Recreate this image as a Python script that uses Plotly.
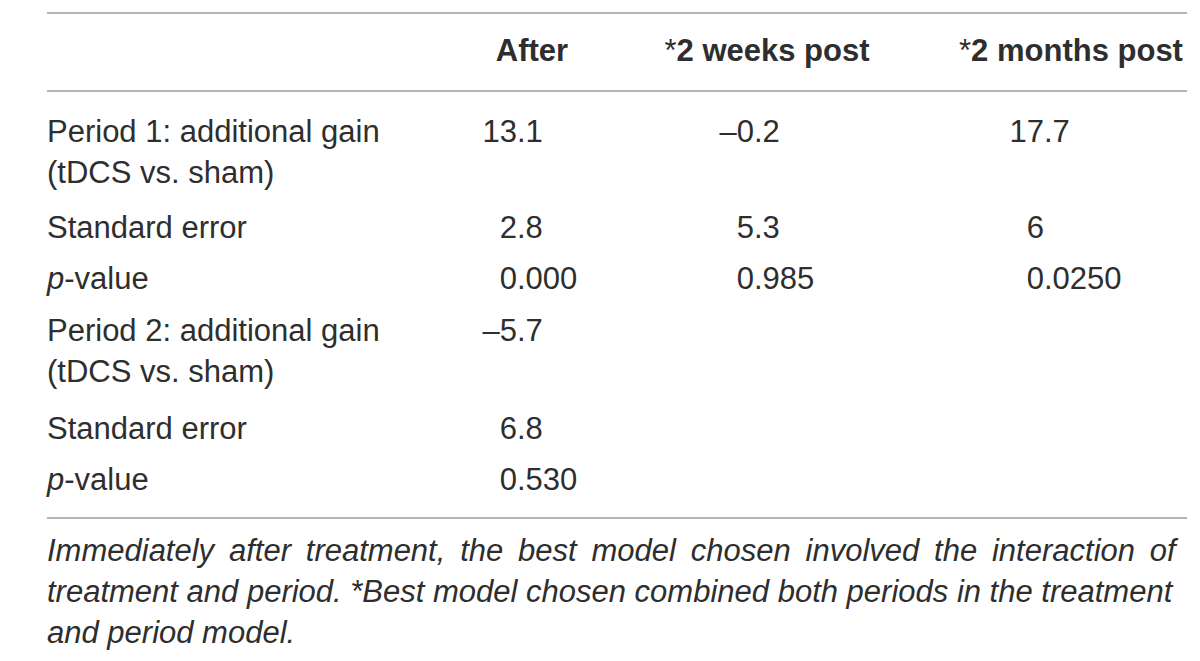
import plotly.graph_objs as go

# table content (regression results, tDCS vs sham)
col_heads = ["After", "*2 weeks post", "*2 months post"]
row_labels = [
	["Period 1: additional gain", "(tDCS vs. sham)"],
	["Standard error"],
	["<i>p</i>-value"],
	["Period 2: additional gain", "(tDCS vs. sham)"],
	["Standard error"],
	["<i>p</i>-value"],
]
after_vals = ["13.1", "2.8", "0.000", "–5.7", "6.8", "0.530"]
weeks_vals = ["–0.2", "5.3", "0.985", None, None, None]
months_vals = ["17.7", "6", "0.0250", None, None, None]
footnote = [
	"Immediately after treatment, the best model chosen involved the interaction of",
	"treatment and period. *Best model chosen combined both periods in the treatment",
	"and period model.",
]

# layout (pixel units on a 1200x661 canvas)
FONT = "Liberation Sans, Arial, Helvetica, sans-serif"
FS = 31
INK = "#2e2e2e"
RULE = "#b4b4b4"
left_x = 47
right_x = 1187
head_x = [532, 767, 1071]
dec_x = [517, 754, 1044]
head_y = 50
row_y = [131, 227, 278, 330, 428, 479]
line_gap = 41
rule_y = [13, 91, 518]
foot_y = 550
nudge = 3          # plotly's "middle" sits a little above the visual centre
page_off = 8       # the page body margin shifts the plot div

fig = go.Figure()

# header (the leading asterisk is set in regular weight)
heads = []
for h in col_heads:
	if h.startswith("*"):
		heads.append("<span style='font-weight:normal'>*</span><b>" + h[1:] + "</b>")
	else:
		heads.append("<b>" + h + "</b>")
fig.add_trace(go.Scatter(
	x=head_x, y=[head_y + nudge] * 3, mode="text", text=heads,
	textposition="middle center",
	textfont=dict(family=FONT, size=FS, color=INK),
))

# row labels
lx, ly, lt = [], [], []
for y, lines in zip(row_y, row_labels):
	for i, s in enumerate(lines):
		lx.append(left_x)
		ly.append(y + i * line_gap + nudge)
		lt.append(s)
fig.add_trace(go.Scatter(
	x=lx, y=ly, mode="text", text=lt, textposition="middle right",
	textfont=dict(family=FONT, size=FS, color=INK),
))

# values, aligned on the decimal point
for xd, vals in zip(dec_x, [after_vals, weeks_vals, months_vals]):
	ys, ints, fracs = [], [], []
	for y, v in zip(row_y, vals):
		if v is None:
			continue
		if "." in v:
			a, b = v.split(".", 1)
			b = "." + b
		else:
			a, b = v, ""
		ys.append(y + nudge)
		ints.append(a)
		fracs.append(b)
	fig.add_trace(go.Scatter(
		x=[xd] * len(ys), y=ys, mode="text", text=ints, textposition="middle left",
		textfont=dict(family=FONT, size=FS, color=INK),
	))
	fig.add_trace(go.Scatter(
		x=[xd] * len(ys), y=ys, mode="text", text=fracs, textposition="middle right",
		textfont=dict(family=FONT, size=FS, color=INK),
	))

# footnote (first line roughly justified by widening its gaps)
gap_fill = ["\u2009", "", ""]
foot_txt = []
for s, g in zip(footnote, gap_fill):
	if g:
		s = s.replace(" ", g + " ")
	foot_txt.append("<i>" + s + "</i>")
fig.add_trace(go.Scatter(
	x=[left_x] * len(footnote),
	y=[foot_y + i * line_gap + nudge for i in range(len(footnote))],
	mode="text", text=foot_txt, textposition="middle right",
	textfont=dict(family=FONT, size=FS, color=INK),
))

# horizontal rules
for y in rule_y:
	fig.add_shape(type="line", x0=left_x, x1=right_x, y0=y, y1=y,
		xref="x", yref="y", line=dict(color=RULE, width=2))

fig.update_layout(
	width=1200, height=661,
	margin=dict(l=0, r=0, t=0, b=0),
	paper_bgcolor="white", plot_bgcolor="white",
	showlegend=False,
	xaxis=dict(range=[page_off, 1200 + page_off], visible=False, fixedrange=True),
	yaxis=dict(range=[661 + page_off, page_off], visible=False, fixedrange=True),
)

fig.write_html("out.html")
